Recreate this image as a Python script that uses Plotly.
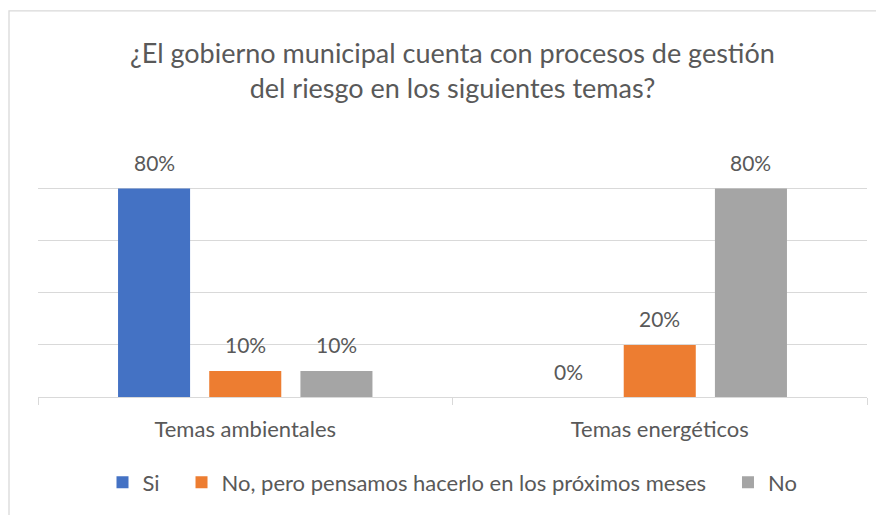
import plotly.graph_objects as go

categories = ["Temas ambientales", "Temas energéticos"]
series_names = ["Si", "No, pero pensamos hacerlo en los próximos meses", "No"]
series_values = [
    [0.80, 0.00],
    [0.10, 0.20],
    [0.10, 0.80],
]
series_colors = ["#4472C4", "#ED7D31", "#A5A5A5"]
title_text = "¿El gobierno municipal cuenta con procesos de gestión<br>del riesgo en los siguientes temas?"

# page offset of 8px (body margin) is compensated
OFF = 8
W, H = 884 - OFF, 515 - OFF
ML, MR, MT, MB = 38 - OFF, 17, 136 - OFF, 116
BARGAP = 0.34
BARGROUPGAP = 0.21
FONT = "Lato"
TXT = "#595959"
GRID = "#D9D9D9"
PAD = "\u00a0" * 3

fig = go.Figure()
for k, (name, vals, col) in enumerate(zip(series_names, series_values, series_colors)):
    label = name + (PAD if k < len(series_names) - 1 else "")
    fig.add_trace(go.Bar(name=label, x=categories, y=vals, marker_color=col,
                         marker_line_width=0, hoverinfo="skip"))

plot_w = W - ML - MR
plot_h = H - MT - MB
cat_w = plot_w / len(categories)
slot = cat_w * (1 - BARGAP) / len(series_names)

annotations = []
for i, vals in enumerate(series_values):
    off = (i - (len(series_names) - 1) / 2) * slot
    for c, v in zip(categories, vals):
        annotations.append(dict(x=c, y=v, xref="x", yref="y", text=f"{round(v*100)}%",
                                showarrow=False, xshift=off, yshift=26, yanchor="middle",
                                font=dict(family=FONT, size=21, color=TXT)))

fig.update_layout(
    width=W, height=H,
    margin=dict(l=ML, r=MR, t=MT, b=MB, pad=0),
    paper_bgcolor="white", plot_bgcolor="white",
    barmode="group", bargap=BARGAP, bargroupgap=BARGROUPGAP,
    title=dict(text=title_text, x=0.5, xanchor="center", xref="paper",
               y=1 - (63 - OFF) / H, yanchor="middle",
               font=dict(family=FONT, size=27, color=TXT)),
    font=dict(family=FONT, size=22, color=TXT),
    showlegend=True,
    legend=dict(orientation="h", x=0.5, xanchor="center", y=-86 / plot_h, yanchor="middle",
                font=dict(family=FONT, size=22, color=TXT), traceorder="normal",
                itemclick=False, itemdoubleclick=False),
    annotations=annotations,
    shapes=[dict(type="rect", xref="paper", yref="paper",
                 x0=-(ML - 1) / plot_w, x1=1 + (MR + 20) / plot_w,
                 y0=-(MB + 20) / plot_h, y1=1 + (MT - 2) / plot_h,
                 line=dict(color=GRID, width=1.3), fillcolor="rgba(0,0,0,0)", layer="below")],
)
fig.update_xaxes(showline=True, linecolor=GRID, linewidth=1, ticks="outside", ticklen=7,
                 tickcolor=GRID, tickson="boundaries", showgrid=False,
                 ticklabelstandoff=13, tickfont=dict(family=FONT, size=22, color=TXT))
fig.update_yaxes(range=[0, 1.002], dtick=0.2, showgrid=True, gridcolor=GRID, gridwidth=1,
                 showticklabels=False, zeroline=False, showline=False)

fig.write_html("out.html")
